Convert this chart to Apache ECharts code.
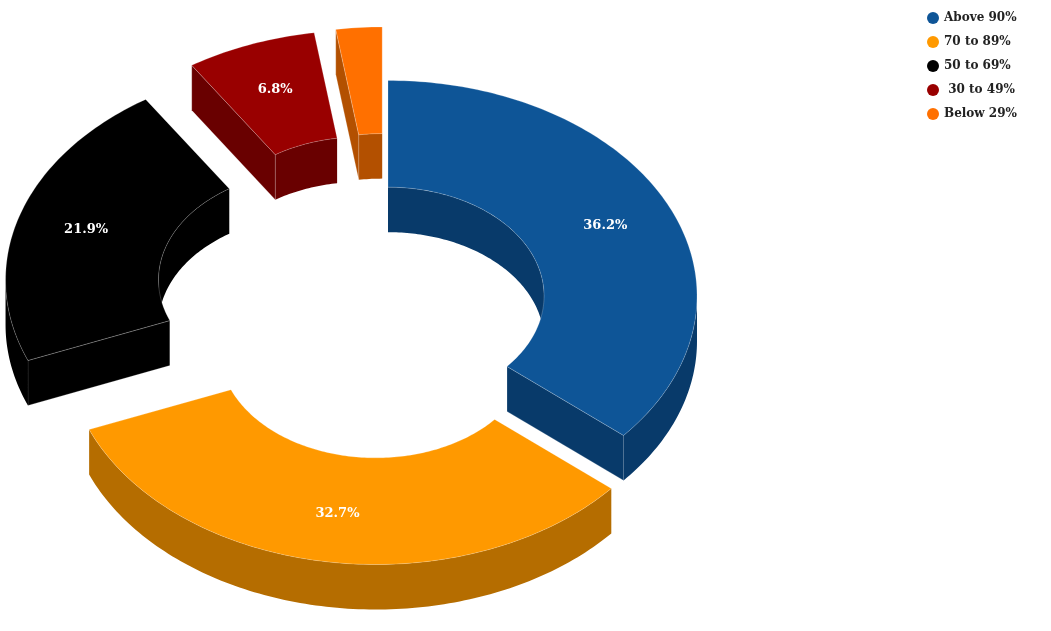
<!DOCTYPE html>
<html>
<head>
<meta charset="utf-8">
<script src="https://cdn.jsdelivr.net/npm/echarts@6/dist/echarts.min.js"></script>
<style>
  html, body { margin: 0; padding: 0; background: #fff; }
  #chart { width: 1051px; height: 631px; }
</style>
</head>
<body>
<div id="chart"></div>
<script>
// chart data
const categories = ['Above 90%', '70 to 89%', '50 to 69%', ' 30 to 49%', 'Below 29%'];
const shares = [36.2, 32.7, 21.9, 6.8, 2.4];

// look of each slice: top face / side walls
const topColors = ['#0e5597', '#ff9900', '#000000', '#990000', '#ff7000'];
const sideColors = ['#083a6a', '#b56d00', '#000000', '#690000', '#b35000'];
const pulledOut = [false, true, true, true, true];

// projected donut geometry (px)
const cx = 388, cy = 296;
const rx = 309, ry = 215.5;
const innerRatio = 0.505;
const labelRatio = 0.775;
const depth = 45;
const explode = 77;

const total = shares.reduce((a, b) => a + b, 0);
const startAngles = [];
let acc = 0;
shares.forEach(v => { startAngles.push(acc / total * 360); acc += v; });

const rad = d => d * Math.PI / 180;

// point on the ellipse, angle clockwise from 12 o'clock
function pt(ox, oy, a, k, dy) {
    return [ox + rx * k * Math.sin(rad(a)), oy - ry * k * Math.cos(rad(a)) + (dy || 0)];
}

function arc(ox, oy, a0, a1, k, dy) {
    let pts = [];
    let n = Math.max(2, Math.ceil(Math.abs(a1 - a0)));
    for (let i = 0; i <= n; i++) pts.push(pt(ox, oy, a0 + (a1 - a0) * i / n, k, dy));
    return pts;
}

function wall(ox, oy, a0, a1, k) {
    let top = arc(ox, oy, a0, a1, k, 0);
    let bot = arc(ox, oy, a1, a0, k, depth);
    return top.concat(bot);
}

function makeRender(idx) {
    return function (params, api) {
        let a0 = startAngles[idx];
        let a1 = a0 + api.value(0) / total * 360;
        let mid = (a0 + a1) / 2;
        let ox = cx, oy = cy;
        if (pulledOut[idx]) {
            ox += explode * Math.sin(rad(mid));
            oy -= explode * (ry / rx) * Math.cos(rad(mid));
        }
        let zBase = Math.round(-Math.cos(rad(mid)) * 100) * 10 + 2000;
        let side = sideColors[idx];
        let edge = { stroke: 'rgba(255,255,255,0.35)', lineWidth: 0.6 };
        let children = [];

        // inner wall: visible on the far half of the hole
        [[0, 90], [270, 360]].forEach(r => {
            let s = Math.max(a0, r[0]), e = Math.min(a1, r[1]);
            if (e > s) children.push({ type: 'polygon', z2: zBase + 1,
                shape: { points: wall(ox, oy, s, e, innerRatio) },
                style: { fill: side } });
        });

        // end caps
        let caps = [];
        if (Math.sin(rad(a0)) < -0.001) caps.push(a0);
        if (Math.sin(rad(a1)) > 0.001) caps.push(a1);
        caps.forEach(a => {
            let pi = pt(ox, oy, a, innerRatio, 0), po = pt(ox, oy, a, 1, 0);
            children.push({ type: 'polygon', z2: zBase + 2,
                shape: { points: [pi, po, [po[0], po[1] + depth], [pi[0], pi[1] + depth]] },
                style: Object.assign({ fill: side }, edge) });
        });

        // outer wall: visible on the near half
        let s = Math.max(a0, 90), e = Math.min(a1, 270);
        if (e > s) children.push({ type: 'polygon', z2: zBase + 3,
            shape: { points: wall(ox, oy, s, e, 1) },
            style: { fill: side } });

        // top face
        let face = arc(ox, oy, a0, a1, 1, 0).concat(arc(ox, oy, a1, a0, innerRatio, 0));
        children.push({ type: 'polygon', z2: zBase + 4,
            shape: { points: face },
            style: Object.assign({ fill: topColors[idx] }, edge) });

        // value label
        if (api.value(0) >= 5) {
            let lp = pt(ox, oy, mid, labelRatio, 0);
            children.push({ type: 'text', z2: zBase + 5, x: lp[0], y: lp[1],
                style: { text: api.value(0).toFixed(1) + '%', fill: '#fff',
                    font: 'bold 13px "DejaVu Serif"', align: 'center', verticalAlign: 'middle' } });
        }
        return { type: 'group', children: children };
    };
}

let option = {
    animation: false,
    legend: {
        data: categories,
        orient: 'vertical',
        left: 922,
        top: 7,
        icon: 'circle',
        itemWidth: 12,
        itemHeight: 12,
        itemGap: 12,
        textStyle: { fontFamily: 'DejaVu Serif', fontWeight: 'bold', fontSize: 12, color: '#222' }
    },
    series: categories.map((name, i) => ({
        type: 'custom',
        name: name,
        coordinateSystem: 'none',
        itemStyle: { color: topColors[i] },
        data: [shares[i]],
        renderItem: makeRender(i)
    }))
};

let chart = echarts.init(document.getElementById('chart'));
chart.setOption(option);
</script>
</body>
</html>
